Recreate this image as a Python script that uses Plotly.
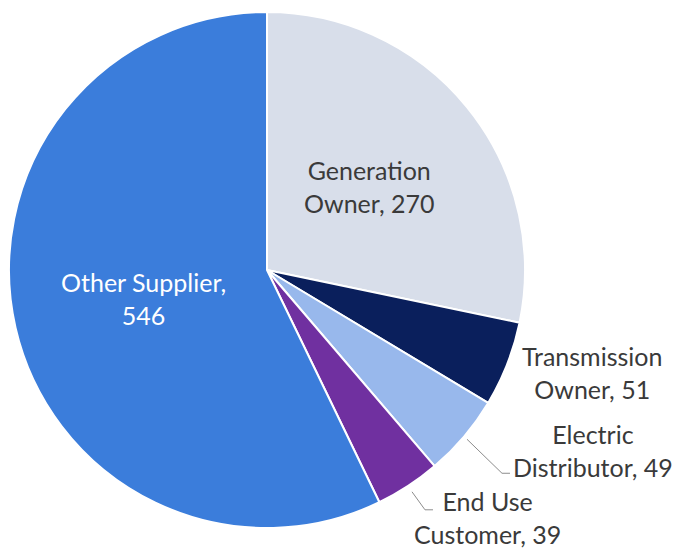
import math
import plotly.graph_objects as go

labels = ["Generation Owner", "Transmission Owner", "Electric Distributor", "End Use Customer", "Other Supplier"]
values = [270, 51, 49, 39, 546]
label_lines = [["Generation", "Owner, 270"], ["Transmission", "Owner, 51"], ["Electric", "Distributor, 49"],
               ["End Use", "Customer, 39"], ["Other Supplier,", "546"]]
colors = ["#D8DEEA", "#0A1F5C", "#98B8EC", "#7030A0", "#3B7DDB"]

W, H = 681, 550
OFF = 8  # page body margin
CX, CY, R = 267, 270, 258


def px2paper(x, y):
    return (x - OFF) / W, 1 - (y - OFF) / H


dx0, dy1 = px2paper(CX - R, CY - R)
dx1, dy0 = px2paper(CX + R, CY + R)

fig = go.Figure(go.Pie(
    labels=labels, values=values, sort=False, direction="clockwise", rotation=0,
    marker=dict(colors=colors, line=dict(color="white", width=2)),
    textinfo="none", hoverinfo="label+value", showlegend=False,
    domain=dict(x=[dx0, dx1], y=[dy0, dy1]),
))

total = sum(values)
cum = 0
annotations = []
shapes = []
FS = 25
TXT = "#3a3a3a"
# label placement (pixel centres of text blocks) and leader settings
inside_r = {0: 0.51, 4: 0.49}
outside_pos = {1: (592, 372), 2: (593, 450), 3: (487, 517)}
leaders = {2: (4, 35, 34, 8), 3: (7, 13, 18, 8)}  # (gap from edge, knee dx, knee dy, tail)
for i, v in enumerate(values):
    a0 = cum / total * 2 * math.pi
    cum += v
    a1 = cum / total * 2 * math.pi
    mid = (a0 + a1) / 2
    sx, sy = math.sin(mid), -math.cos(mid)
    text = "<br>".join(label_lines[i])
    if i in inside_r:
        r = inside_r[i] * R
        x, y = CX + r * sx, CY + r * sy
        col = "white" if i == 4 else TXT
    else:
        x, y = outside_pos[i]
        col = TXT
        if i in leaders:
            g, kx, ky, t = leaders[i]
            x0, y0 = CX + (R + g) * sx, CY + (R + g) * sy
            x1, y1 = x0 + kx, y0 + ky
            p0, p1, p2 = px2paper(x0, y0), px2paper(x1, y1), px2paper(x1 + t, y1)
            shapes.append(dict(type="path", xref="paper", yref="paper",
                               path=f"M {p0[0]} {p0[1]} L {p1[0]} {p1[1]} L {p2[0]} {p2[1]}",
                               line=dict(color="#8c8c8c", width=1)))
    ax, ay = px2paper(x, y)
    annotations.append(dict(x=ax, y=ay, xref="paper", yref="paper", text=text, showarrow=False,
                            font=dict(family="Lato", size=FS, color=col), align="center",
                            xanchor="center", yanchor="middle"))

fig.update_layout(width=W, height=H, margin=dict(l=0, r=0, t=0, b=0),
                  paper_bgcolor="white", plot_bgcolor="white",
                  annotations=annotations, shapes=shapes)
fig.write_html("out.html")
